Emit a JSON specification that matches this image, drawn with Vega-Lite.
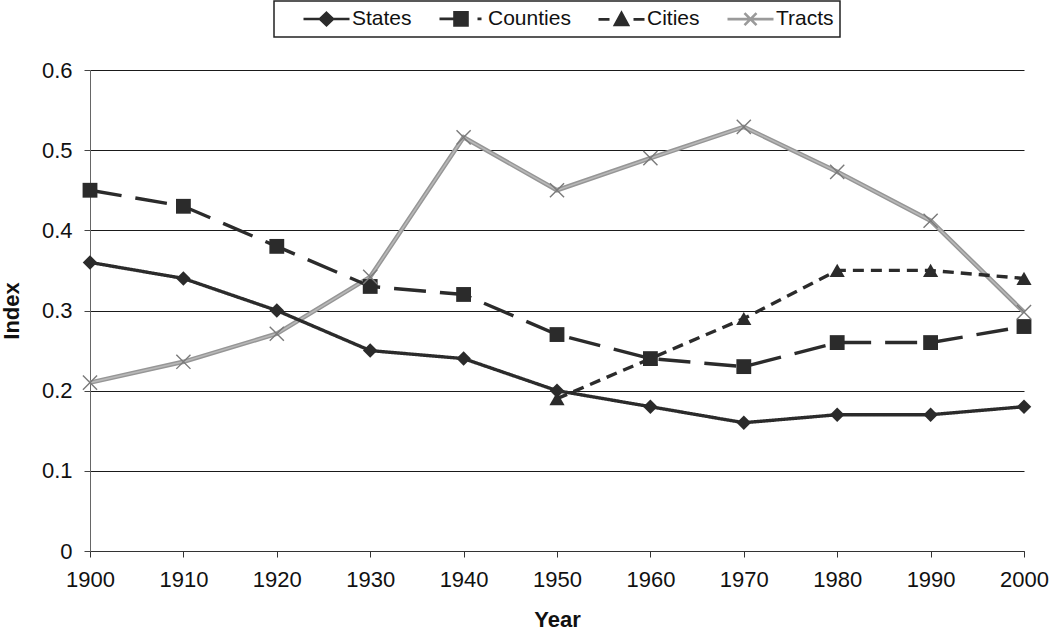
{
  "$schema": "https://vega.github.io/schema/vega-lite/v6.json",
  "width": 934,
  "height": 481,
  "autosize": {"type": "none"},
  "padding": {"left": 90, "top": 70, "right": 26, "bottom": 81},
  "background": "white",
  "config": {
    "view": {"stroke": null},
    "font": "Liberation Sans",
    "axis": {"labelFont": "Liberation Sans", "titleFont": "Liberation Sans", "labelColor": "#111", "titleColor": "#111"},
    "legend": {"strokeWidth": 1.5}
  },
  "datasets": {
    "main": [
      {"year": 1900, "series": "States", "value": 0.36},
      {"year": 1910, "series": "States", "value": 0.34},
      {"year": 1920, "series": "States", "value": 0.30},
      {"year": 1930, "series": "States", "value": 0.25},
      {"year": 1940, "series": "States", "value": 0.24},
      {"year": 1950, "series": "States", "value": 0.20},
      {"year": 1960, "series": "States", "value": 0.18},
      {"year": 1970, "series": "States", "value": 0.16},
      {"year": 1980, "series": "States", "value": 0.17},
      {"year": 1990, "series": "States", "value": 0.17},
      {"year": 2000, "series": "States", "value": 0.18},
      {"year": 1900, "series": "Counties", "value": 0.45},
      {"year": 1910, "series": "Counties", "value": 0.43},
      {"year": 1920, "series": "Counties", "value": 0.38},
      {"year": 1930, "series": "Counties", "value": 0.33},
      {"year": 1940, "series": "Counties", "value": 0.32},
      {"year": 1950, "series": "Counties", "value": 0.27},
      {"year": 1960, "series": "Counties", "value": 0.24},
      {"year": 1970, "series": "Counties", "value": 0.23},
      {"year": 1980, "series": "Counties", "value": 0.26},
      {"year": 1990, "series": "Counties", "value": 0.26},
      {"year": 2000, "series": "Counties", "value": 0.28},
      {"year": 1950, "series": "Cities", "value": 0.19},
      {"year": 1960, "series": "Cities", "value": 0.24},
      {"year": 1970, "series": "Cities", "value": 0.29},
      {"year": 1980, "series": "Cities", "value": 0.35},
      {"year": 1990, "series": "Cities", "value": 0.35},
      {"year": 2000, "series": "Cities", "value": 0.34}
    ],
    "tracts": [
      {"year": 1900, "series": "Tracts", "value": 0.21},
      {"year": 1910, "series": "Tracts", "value": 0.236},
      {"year": 1920, "series": "Tracts", "value": 0.271},
      {"year": 1930, "series": "Tracts", "value": 0.342},
      {"year": 1940, "series": "Tracts", "value": 0.516},
      {"year": 1950, "series": "Tracts", "value": 0.45},
      {"year": 1960, "series": "Tracts", "value": 0.49},
      {"year": 1970, "series": "Tracts", "value": 0.529},
      {"year": 1980, "series": "Tracts", "value": 0.473},
      {"year": 1990, "series": "Tracts", "value": 0.412},
      {"year": 2000, "series": "Tracts", "value": 0.298}
    ]
  },
  "encoding": {
    "x": {
      "field": "year", "type": "quantitative",
      "scale": {"domain": [1900, 2000], "nice": false, "zero": false},
      "axis": {
        "title": "Year", "values": [1900, 1910, 1920, 1930, 1940, 1950, 1960, 1970, 1980, 1990, 2000],
        "format": "d", "grid": false, "tickSize": 6, "tickColor": "#333", "domainColor": "#333",
        "labelFontSize": 22, "labelPadding": 12, "titleFontSize": 22, "titleFontWeight": "bold", "titlePadding": 19,
        "labelFlush": false
      }
    },
    "y": {
      "field": "value", "type": "quantitative",
      "scale": {"domain": [0, 0.6], "nice": false},
      "axis": {
        "title": "Index", "values": [0, 0.1, 0.2, 0.3, 0.4, 0.5, 0.6], "format": "~g",
        "grid": true, "gridColor": "#1a1a1a", "gridWidth": 1, "gridOpacity": 1,
        "tickSize": 6, "tickColor": "#444", "domainColor": "#666",
        "labelFontSize": 22, "labelPadding": 12, "titleFontSize": 22, "titleFontWeight": "bold", "titlePadding": 18
      }
    }
  },
  "layer": [
    {
      "data": {"name": "tracts"},
      "mark": {"type": "line", "color": "#969696", "strokeWidth": 4.5},
      "encoding": {}
    },
    {
      "data": {"name": "tracts"},
      "mark": {"type": "line", "color": "#b8b8b8", "strokeWidth": 1.6},
      "encoding": {}
    },
    {
      "data": {"name": "main"},
      "mark": {"type": "line", "color": "#2b2b2b", "strokeWidth": 3.4},
      "encoding": {
        "strokeDash": {
          "field": "series", "type": "nominal",
          "scale": {"domain": ["States", "Counties", "Cities"], "range": [[1, 0], [32, 14], [11, 7]]},
          "legend": null
        }
      }
    },
    {
      "data": {"name": "main"},
      "transform": [{"filter": "datum.series === 'States'"}],
      "mark": {"type": "point", "shape": "diamond", "filled": true, "color": "#2b2b2b", "size": 210, "opacity": 1},
      "encoding": {}
    },
    {
      "data": {"name": "main"},
      "transform": [{"filter": "datum.series === 'Counties'"}],
      "mark": {"type": "point", "shape": "square", "filled": true, "color": "#2b2b2b", "size": 220, "opacity": 1},
      "encoding": {}
    },
    {
      "data": {"name": "main"},
      "transform": [{"filter": "datum.series === 'Cities'"}],
      "mark": {"type": "point", "shape": "triangle-up", "filled": true, "color": "#2b2b2b", "size": 230, "opacity": 1},
      "encoding": {}
    },
    {
      "data": {"name": "tracts"},
      "mark": {"type": "point", "shape": "M-1,-1L1,1M-1,1L1,-1", "filled": false, "stroke": "#7a7a7a", "strokeWidth": 1.4, "size": 200, "opacity": 1},
      "encoding": {}
    },
    {
      "data": {"name": "main"},
      "transform": [{"filter": "false"}],
      "mark": {"type": "point", "filled": true, "strokeWidth": 2.6, "opacity": 1},
      "encoding": {
        "color": {
          "field": "series", "type": "nominal",
          "scale": {"domain": ["States", "Counties", "Cities", "Tracts"], "range": ["#2b2b2b", "#2b2b2b", "#2b2b2b", "#9a9a9a"]}
        },
        "stroke": {
          "field": "series", "type": "nominal",
          "scale": {"domain": ["States", "Counties", "Cities", "Tracts"], "range": ["#2b2b2b", "#2b2b2b", "#2b2b2b", "#9a9a9a"]}
        },
        "shape": {
          "field": "series", "type": "nominal",
          "scale": {
            "domain": ["States", "Counties", "Cities", "Tracts"],
            "range": [
              "M1.2,0H5.8M3.5,-0.62L4.15,0L3.5,0.62L2.85,0Z",
              "M1.2,0H2.8M2.7,-0.65H4.0V0.65H2.7ZM5.0,0H5.4",
              "M1.2,0H2.3M2.85,0.55L3.5,-0.65L4.15,0.55ZM4.7,0H5.8",
              "M1.2,0H5.8M2.9,-0.6L4.1,0.6M2.9,0.6L4.1,-0.6"
            ]
          },
          "legend": {
            "title": null,
            "orient": "none",
            "direction": "horizontal",
            "legendX": 184,
            "legendY": -69,
            "padding": 6,
            "columnPadding": 4,
            "strokeColor": "#222",
            "fillColor": "white",
            "symbolSize": 400,
            "symbolStrokeWidth": 2.6,
            "symbolOpacity": 1,
            "labelOffset": 49,
            "labelFontSize": 21,
            "labelFont": "Liberation Sans",
            "labelColor": "#111",
            "labelExpr": "datum.label === 'Tracts' ? datum.label + '  ' : datum.label"
          }
        }
      }
    }
  ]
}
